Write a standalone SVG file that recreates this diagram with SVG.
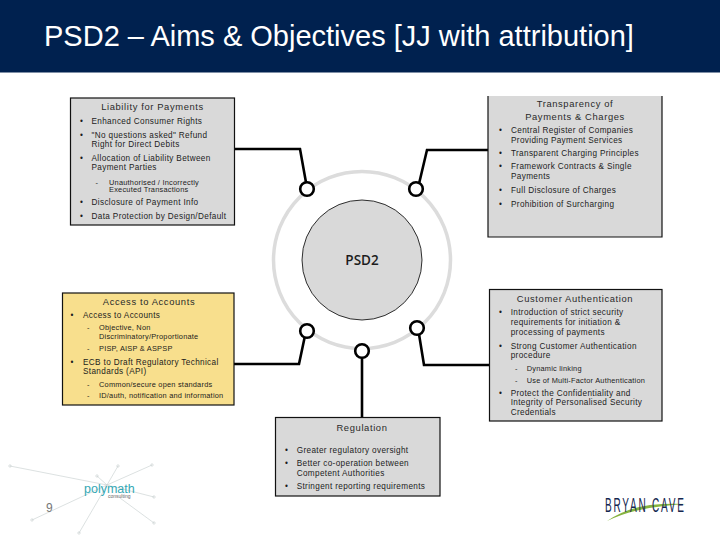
<svg xmlns="http://www.w3.org/2000/svg" width="720" height="540" viewBox="0 0 720 540">
<style>
text{font-family:"Liberation Sans",Arial,sans-serif;fill:#1c1c1c}
.box{stroke:#111;stroke-width:1.2}
.grey{fill:#d9d9d9}
.h{font-size:9.4px;text-anchor:middle;letter-spacing:.62px;fill:#2a2a2a}
.t{font-size:8.2px;letter-spacing:.35px}
.s{font-size:7.4px;letter-spacing:.22px}
.c{fill:none;stroke:#000;stroke-width:2.6}
.n{fill:#fff;stroke:#000;stroke-width:2.6}
.l{fill:none;stroke:#c4cccc;stroke-width:.6}
</style>
<rect width="720" height="540" fill="#fff"/>
<g id="banner"><rect width="720" height="72.500" fill="#00214f"/>
<text x="44" y="46" style="font-size:29px;fill:#fff">PSD2 – Aims &amp; Objectives [JJ with attribution]</text></g>
<g id="hub">
<circle cx="362" cy="260" r="88.500" fill="none" stroke="#dcdcdc" stroke-width="3.500"/>
<circle cx="362" cy="260" r="60" fill="#d9d9d9" stroke="#000" stroke-width=".8"/>
<text x="362" y="265" text-anchor="middle" style="font-family:'Open Sans','Noto Sans',sans-serif;font-size:13.500px;font-weight:600">PSD2</text>
</g>
<g id="connectors">
<path class="c" d="M235 149H300L307 188"/>
<path class="c" d="M488 150H427L418 188"/>
<path class="c" d="M234 364H299L306 331"/>
<path class="c" d="M489 365H424L418 328"/>
<path class="c" d="M362 351V417"/>
</g>
<g id="joints">
<circle class="n" cx="307" cy="189" r="6.800"/>
<circle class="n" cx="416" cy="189" r="6.800"/>
<circle class="n" cx="307" cy="331" r="6.800"/>
<circle class="n" cx="417" cy="328" r="6.800"/>
<circle class="n" cx="362" cy="351" r="6.800"/>
</g>
<g id="liability">
<rect class="box grey" x="70.500" y="98" width="164" height="127"/>
<text class="h" x="152.500" y="109.500">Liability for Payments</text>
<text class="t" x="80" y="123.500">•</text><text class="t" x="91.500" y="123.500">Enhanced Consumer Rights</text>
<text class="t" x="80" y="137.500">•</text><text class="t" x="91.500" y="137.500">"No questions asked" Refund</text>
<text class="t" x="91.500" y="147">Right for Direct Debits</text>
<text class="t" x="80" y="160.500">•</text><text class="t" x="91.500" y="160.500">Allocation of Liability Between</text>
<text class="t" x="91.500" y="170">Payment Parties</text>
<text class="s" x="95.500" y="184.500">-</text><text class="s" x="109" y="184.500">Unauthorised / Incorrectly</text>
<text class="s" x="109" y="191.700">Executed Transactions</text>
<text class="t" x="80" y="205">•</text><text class="t" x="91.500" y="205">Disclosure of Payment Info</text>
<text class="t" x="80" y="219">•</text><text class="t" x="91.500" y="219">Data Protection by Design/Default</text>
</g>
<g id="transparency">
<path class="grey" d="M488 96H662V237H488Z"/>
<path fill="none" stroke="#111" stroke-width="1.200" d="M662 96V237H488V96"/>
<text class="h" x="575" y="106.700">Transparency of</text>
<text class="h" x="575" y="120">Payments &amp; Charges</text>
<text class="t" x="499" y="132.700">•</text><text class="t" x="511" y="132.700">Central Register of Companies</text>
<text class="t" x="511" y="142.700">Providing Payment Services</text>
<text class="t" x="499" y="156">•</text><text class="t" x="511" y="156">Transparent Charging Principles</text>
<text class="t" x="499" y="169">•</text><text class="t" x="511" y="169">Framework Contracts &amp; Single</text>
<text class="t" x="511" y="179">Payments</text>
<text class="t" x="499" y="192.700">•</text><text class="t" x="511" y="192.700">Full Disclosure of Charges</text>
<text class="t" x="499" y="206.700">•</text><text class="t" x="511" y="206.700">Prohibition of Surcharging</text>
</g>
<g id="access">
<rect class="box" fill="#f8df8d" x="62.500" y="293" width="171.500" height="112"/>
<text class="h" x="149" y="305">Access to Accounts</text>
<text class="t" x="70.500" y="318.300">•</text><text class="t" x="83" y="318.300">Access to Accounts</text>
<text class="s" x="87" y="330">-</text><text class="s" x="99" y="330">Objective, Non</text>
<text class="s" x="99" y="339.300">Discriminatory/Proportionate</text>
<text class="s" x="87" y="350.700">-</text><text class="s" x="99" y="350.700">PISP, AISP &amp; ASPSP</text>
<text class="t" x="70.500" y="365">•</text><text class="t" x="83" y="365">ECB to Draft Regulatory Technical</text>
<text class="t" x="83" y="374.300">Standards (API)</text>
<text class="s" x="87" y="386.700">-</text><text class="s" x="99" y="386.700">Common/secure open standards</text>
<text class="s" x="87" y="398.300">-</text><text class="s" x="99" y="398.300">ID/auth, notification and information</text>
</g>
<g id="customer">
<rect class="box grey" x="489.500" y="289.500" width="172.500" height="131.500"/>
<text class="h" x="575" y="301.700">Customer Authentication</text>
<text class="t" x="499" y="315.300">•</text><text class="t" x="510.700" y="315.300">Introduction of strict security</text>
<text class="t" x="510.700" y="325">requirements for initiation &amp;</text>
<text class="t" x="510.700" y="335">processing of payments</text>
<text class="t" x="499" y="348.700">•</text><text class="t" x="510.700" y="348.700">Strong Customer Authentication</text>
<text class="t" x="510.700" y="358.300">procedure</text>
<text class="s" x="515" y="371">-</text><text class="s" x="526.700" y="371">Dynamic linking</text>
<text class="s" x="515" y="382.700">-</text><text class="s" x="526.700" y="382.700">Use of Multi-Factor Authentication</text>
<text class="t" x="499" y="395.700">•</text><text class="t" x="510.700" y="395.700">Protect the Confidentiality and</text>
<text class="t" x="510.700" y="405.300">Integrity of Personalised Security</text>
<text class="t" x="510.700" y="415">Credentials</text>
</g>
<g id="regulation">
<rect class="box grey" x="275.500" y="417.500" width="164.500" height="78.500"/>
<text class="h" x="362" y="430.700">Regulation</text>
<text class="t" x="285" y="452.700">•</text><text class="t" x="296.700" y="452.700">Greater regulatory oversight</text>
<text class="t" x="285" y="466">•</text><text class="t" x="296.700" y="466">Better co-operation between</text>
<text class="t" x="296.700" y="475.700">Competent Authorities</text>
<text class="t" x="285" y="489.300">•</text><text class="t" x="296.700" y="489.300">Stringent reporting requirements</text>
</g>
<g id="polymath">
<path class="l" d="M10 466L107 485M97 476L107 485M118 466L107 485M152 465L107 485M154 497L107 485M154 523L120 498M79 533L107 485M32 520L107 485"/>
<g class="l"><circle cx="10" cy="466" r="1.200"/><circle cx="97" cy="476" r="1.200"/><circle cx="118" cy="466" r="1.200"/><circle cx="152" cy="465" r="1.200"/><circle cx="154" cy="497" r="1.200"/><circle cx="154" cy="523" r="1.200"/><circle cx="79" cy="533" r="1.200"/><circle cx="32" cy="520" r="1.200"/></g>
<text x="84" y="493" style="font-size:12.500px;fill:#35a8b5">polymath</text>
<text x="108" y="498" style="font-size:5px;fill:#666">consulting</text>
<text x="46" y="512" style="font-size:12px;fill:#777">9</text>
</g>
<g id="bryan-cave">
<path d="M607 521Q626 508 650 505Q668 503 686 504Q655 506 635 511Q622 514 607 521Z" fill="#86b33f"/>
<text transform="translate(605 512) scale(.5 1)" textLength="158" lengthAdjust="spacing" style="font-size:20px;fill:#14264f">BRYAN CAVE</text>
</g>
</svg>
